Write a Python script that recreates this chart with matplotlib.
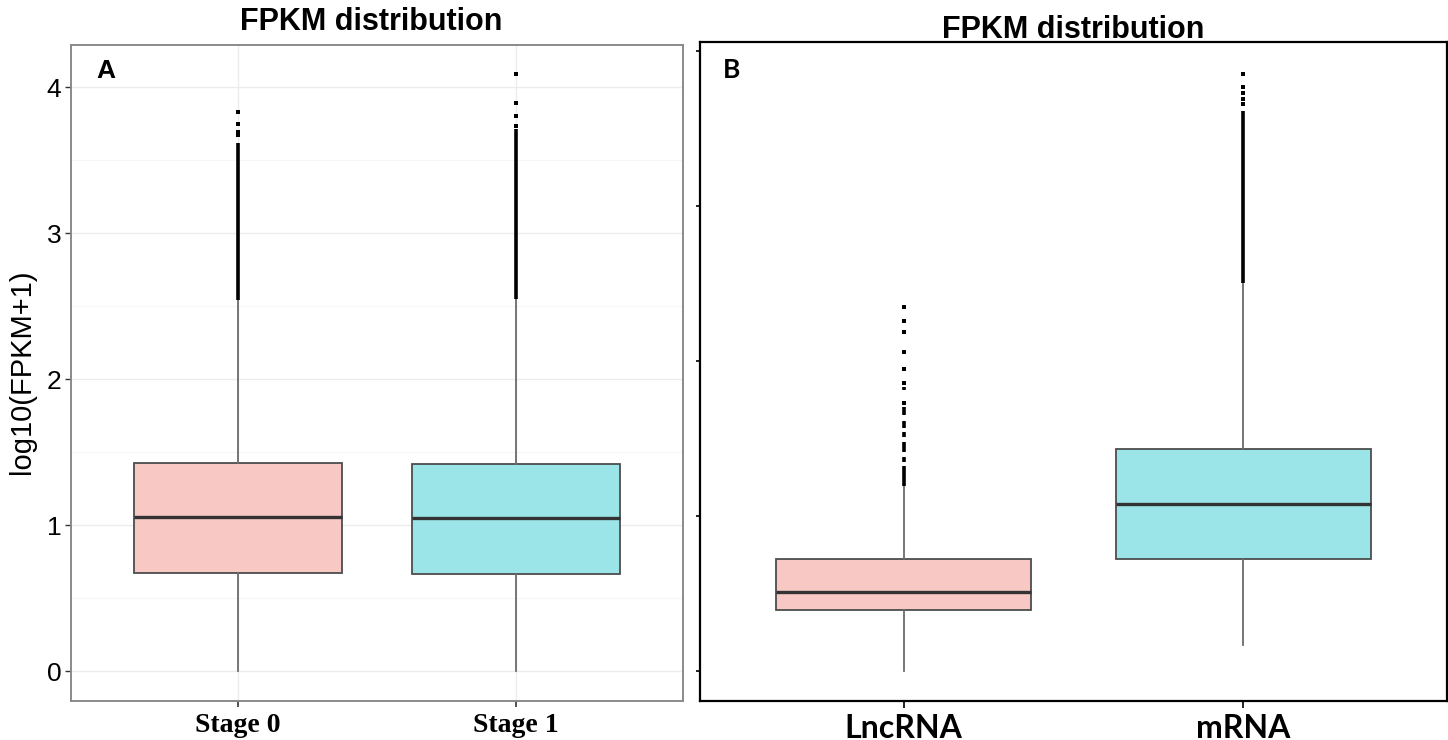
import matplotlib
matplotlib.use("Agg")
import matplotlib.pyplot as plt

# ---------------- data ----------------
cats_a = ["Stage 0", "Stage 1"]
q1_a = [0.67, 0.665]
med_a = [1.055, 1.05]
q3_a = [1.425, 1.42]
whislo_a = [0.0, 0.0]
whishi_a = [2.54, 2.55]
dense_a = [[(2.54, 3.62)], [(2.55, 3.71)]]
fliers_a = [[3.67, 3.69, 3.75, 3.83], [3.73, 3.80, 3.89, 4.09]]

cats_b = ["LncRNA", "mRNA"]
q1_b = [0.39, 0.72]
med_b = [0.51, 1.08]
q3_b = [0.72, 1.43]
whislo_b = [0.0, 0.17]
whishi_b = [1.19, 2.50]
dense_b = [[(1.19, 1.32), (1.35, 1.38), (1.41, 1.48), (1.51, 1.54),
            (1.57, 1.61), (1.65, 1.70), (1.81, 1.83)],
           [(2.50, 3.61)]]
fliers_b = [[1.73, 1.86, 1.95, 2.06, 2.19, 2.26, 2.35],
            [3.66, 3.69, 3.73, 3.77, 3.85]]

yticks = [0, 1, 2, 3, 4]
colors = ["#F8C8C4", "#9BE5E8"]

W, H = 1448, 740
fig = plt.figure(figsize=(W / 100, H / 100), dpi=100)


def px_axes(l, t, r, b):
    return fig.add_axes([l / W, 1 - b / H, (r - l) / W, (b - t) / H])


def draw_boxes(ax, q1, med, q3, lo, hi, dense, fliers):
    stats = []
    for i in range(len(q1)):
        stats.append(dict(med=med[i], q1=q1[i], q3=q3[i], whislo=lo[i],
                          whishi=hi[i], fliers=[]))
    pos = list(range(1, len(q1) + 1))
    bp = ax.bxp(stats, positions=pos, widths=0.75, patch_artist=True,
                showfliers=False, showcaps=False,
                boxprops=dict(edgecolor="#4d4d4d", linewidth=1.3),
                whiskerprops=dict(color="#6b6b6b", linewidth=1.3),
                medianprops=dict(color="#333333", linewidth=2.4))
    for patch, c in zip(bp["boxes"], colors):
        patch.set_facecolor(c)
    for i, p in enumerate(pos):
        for lo_, hi_ in dense[i]:
            ax.vlines(p, lo_, hi_, color="black", linewidth=2.6, zorder=4)
        ax.scatter([p] * len(fliers[i]), fliers[i], s=7, marker="s",
                   color="black", linewidths=0, zorder=4)
    return pos


# ---------------- panel A ----------------
axa = px_axes(71, 45, 683, 701)
pos = draw_boxes(axa, q1_a, med_a, q3_a, whislo_a, whishi_a, dense_a, fliers_a)
axa.set_xlim(0.4, 2.6)
axa.set_ylim(-0.205, 4.288)
axa.set_yticks(yticks)
axa.set_yticks([0.5, 1.5, 2.5, 3.5], minor=True)
axa.set_xticks(pos)
axa.set_xticklabels(cats_a, fontfamily="Liberation Serif", fontweight="bold",
                    fontsize=20)
axa.tick_params(axis="y", which="major", labelsize=19, length=4, width=1,
                color="#333333", pad=3)
axa.tick_params(axis="y", which="minor", length=0)
axa.tick_params(axis="x", length=4, width=1.2, color="#333333", pad=5)
for lab in axa.get_yticklabels():
    lab.set_fontfamily("Liberation Sans")
axa.grid(True, which="major", color="#ececec", linewidth=1.0)
axa.grid(True, which="minor", axis="y", color="#f6f6f6", linewidth=0.8)
axa.set_axisbelow(True)
for s in axa.spines.values():
    s.set_color("#8a8a8a")
    s.set_linewidth(1.4)
axa.text(0.042, 0.978, "A", transform=axa.transAxes, ha="left", va="top",
         fontsize=19, fontweight="bold", fontfamily="Liberation Sans")

# ---------------- panel B ----------------
axb = px_axes(700, 42, 1447, 701)
pos = draw_boxes(axb, q1_b, med_b, q3_b, whislo_b, whishi_b, dense_b, fliers_b)
axb.set_xlim(0.4, 2.6)
axb.set_ylim(-0.194, 4.058)
axb.set_yticks(yticks)
axb.set_yticklabels([])
axb.set_xticks(pos)
axb.set_xticklabels(cats_b, fontfamily="Lato", fontweight="bold", fontsize=23)
axb.tick_params(axis="y", length=3, width=1.2, color="black")
axb.tick_params(axis="x", length=5, width=1.2, color="black", pad=4)
for s in axb.spines.values():
    s.set_color("black")
    s.set_linewidth(1.6)
axb.text(0.03, 0.975, "B", transform=axb.transAxes, ha="left", va="top",
         fontsize=19, fontweight="bold", fontfamily="Lato")

# ---------------- titles & labels ----------------
fig.text(371 / W, 1 - 22 / H, "FPKM distribution", ha="center", va="center",
         fontsize=22, fontweight="bold", fontfamily="Liberation Sans")
fig.text(1073 / W, 1 - 30 / H, "FPKM distribution", ha="center", va="center",
         fontsize=22, fontweight="bold", fontfamily="Liberation Sans")
fig.text(22 / W, 1 - 372 / H, "log10(FPKM+1)", rotation=90, ha="center",
         va="center", fontsize=21, fontfamily="Liberation Sans")

fig.savefig("out.png", dpi=100, facecolor="white")
